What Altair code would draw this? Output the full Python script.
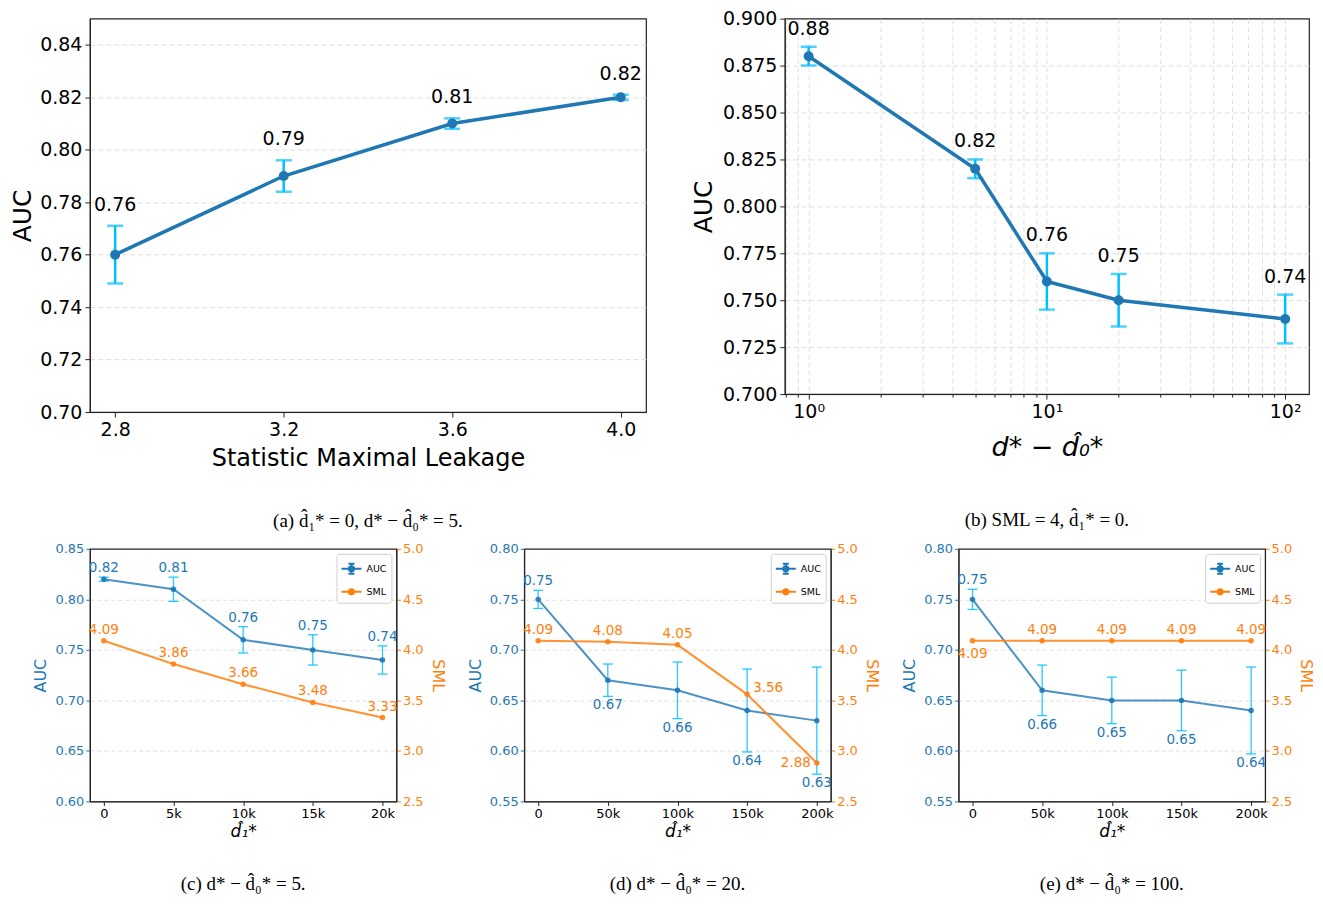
import altair as alt
import pandas as pd

BLUE = "#1f77b4"
CYAN = "#00bfff"
ORANGE = "#ff7f0e"
FONT = "DejaVu Sans"
SERIF = "Liberation Serif"
GRID = "#dedede"

# ---------------- panel (a) ----------------
A_SML = [2.8, 3.2, 3.6, 4.0]
A_AUC = [0.76, 0.79, 0.81, 0.82]
A_LO = [0.749, 0.784, 0.808, 0.819]
A_HI = [0.771, 0.796, 0.812, 0.821]
A_YTICKS = [0.70, 0.72, 0.74, 0.76, 0.78, 0.80, 0.82, 0.84]

# ---------------- panel (b) ----------------
B_GAP = [1, 5, 10, 20, 100]
B_AUC = [0.88, 0.82, 0.76, 0.75, 0.74]
B_LO = [0.875, 0.815, 0.745, 0.736, 0.727]
B_HI = [0.885, 0.825, 0.775, 0.764, 0.753]
B_YTICKS = [0.700, 0.725, 0.750, 0.775, 0.800, 0.825, 0.850, 0.875, 0.900]
B_XTICKS = [0.8, 0.9, 1, 2, 3, 4, 5, 6, 7, 8, 9, 10, 20, 30, 40, 50, 60, 70, 80, 90, 100]

# ---------------- panel (c) ----------------
C_D1 = [0, 5000, 10000, 15000, 20000]
C_AUC = [0.82, 0.81, 0.76, 0.75, 0.74]
C_LO = [0.818, 0.798, 0.747, 0.735, 0.726]
C_HI = [0.822, 0.822, 0.773, 0.765, 0.754]
C_SML = [4.09, 3.86, 3.66, 3.48, 3.33]
C_AUC_POS = ["above", "above", "above", "above", "above"]
C_SML_POS = ["above", "above", "above", "above", "above"]

# ---------------- panel (d) ----------------
D_D1 = [0, 50000, 100000, 150000, 200000]
D_AUC = [0.75, 0.67, 0.66, 0.64, 0.63]
D_LO = [0.741, 0.654, 0.632, 0.599, 0.577]
D_HI = [0.759, 0.686, 0.688, 0.681, 0.683]
D_SML = [4.09, 4.08, 4.05, 3.56, 2.88]
D_AUC_POS = ["above", "below", "below", "below", "below"]
D_SML_POS = ["above", "above", "above", "right", "left"]

# ---------------- panel (e) ----------------
E_D1 = [0, 50000, 100000, 150000, 200000]
E_AUC = [0.75, 0.66, 0.65, 0.65, 0.64]
E_LO = [0.740, 0.635, 0.627, 0.620, 0.597]
E_HI = [0.760, 0.685, 0.673, 0.680, 0.683]
E_SML = [4.09, 4.09, 4.09, 4.09, 4.09]
E_AUC_POS = ["above", "below", "below", "below", "below"]
E_SML_POS = ["below", "above", "above", "above", "above"]

SML_TICKS = [2.5, 3.0, 3.5, 4.0, 4.5, 5.0]
SERIES = ["AUC", "SML"]

CAPTIONS = [
    "(a) d\u0302\u2081* = 0, d* \u2212 d\u0302\u2080* = 5.",
    "(b) SML = 4, d\u0302\u2081* = 0.",
    "(c) d* \u2212 d\u0302\u2080* = 5.",
    "(d) d* \u2212 d\u0302\u2080* = 20.",
    "(e) d* \u2212 d\u0302\u2080* = 100.",
]


def caption(text, offset):
    return alt.TitleParams(text=text, orient="bottom", anchor="middle", offset=offset,
                           font=SERIF, fontSize=19, fontWeight="normal", color="black")


def edge_hidden(lo, hi):
    return {"condition": {"test": f"abs(datum.value - {lo}) < 1e-9 || abs(datum.value - {hi}) < 1e-9",
                          "value": 0}, "value": 1}


def big_panel(df, xenc, yscale, yaxis, dy, width, height, title):
    base = alt.Chart(df)
    y = lambda f: alt.Y(f"{f}:Q", scale=yscale, axis=yaxis)
    rule = base.mark_rule(color=CYAN, strokeWidth=2.5).encode(x=xenc, y=y("lo"), y2="hi:Q")
    cap_lo = base.mark_tick(color=CYAN, orient="horizontal", size=16, thickness=2.5).encode(x=xenc, y=y("lo"))
    cap_hi = base.mark_tick(color=CYAN, orient="horizontal", size=16, thickness=2.5).encode(x=xenc, y=y("hi"))
    line = base.mark_line(color=BLUE, strokeWidth=3.5).encode(x=xenc, y=y("auc"))
    pts = base.mark_circle(color=BLUE, size=100, opacity=1).encode(x=xenc, y=y("auc"))
    lbl = base.mark_text(baseline="bottom", dy=dy, fontSize=19, font=FONT, color="black").encode(
        x=xenc, y=y("hi"), text=alt.Text("auc:Q", format=".2f"))
    return alt.layer(rule, cap_lo, cap_hi, line, pts, lbl).properties(
        width=width, height=height, title=title)


# panel (a)
dfa = pd.DataFrame({"x": A_SML, "auc": A_AUC, "lo": A_LO, "hi": A_HI})
xa = alt.X("x:Q", scale=alt.Scale(domain=[2.74, 4.06], nice=False, zero=False),
           axis=alt.Axis(values=A_SML, format=".1f", title="Statistic Maximal Leakage", grid=False,
                         labelFontSize=19, titleFontSize=24, tickSize=5, labelPadding=3,
                         titlePadding=8, labelFlush=False, labelColor="black", titleColor="black"))
ya_scale = alt.Scale(domain=[0.70, 0.85], nice=False, zero=False)
ya_axis = alt.Axis(values=A_YTICKS, format=".2f", title="AUC", grid=True, gridDash=[5, 3],
                   gridColor=GRID, gridOpacity=edge_hidden(0.70, 0.85),
                   labelFontSize=19, titleFontSize=25, tickSize=5, labelPadding=3,
                   titlePadding=4, labelFlush=False, labelColor="black", titleColor="black")
panel_a = big_panel(dfa, xa, ya_scale, ya_axis, -11, 557, 394, caption(CAPTIONS[0], 41))

# panel (b)
dfb = pd.DataFrame({"x": B_GAP, "auc": B_AUC, "lo": B_LO, "hi": B_HI})
major = "datum.value == 1 || datum.value == 10 || datum.value == 100"
xb = alt.X("x:Q", scale=alt.Scale(type="log", domain=[0.7943, 125.9], nice=False),
           axis=alt.Axis(values=B_XTICKS, title="d* \u2212 d\u0302\u2080*",
                         labelExpr="datum.value == 1 ? '10\u2070' : datum.value == 10 ? '10\u00b9' : datum.value == 100 ? '10\u00b2' : ''",
                         labelOverlap=False, labelFlush=False, grid=True, gridDash=[5, 3], gridColor=GRID,
                         tickSize={"condition": {"test": major, "value": 5}, "value": 3},
                         labelFontSize=19, titleFontSize=27, titleFontStyle="italic", labelPadding=3,
                         titlePadding=14, labelColor="black", titleColor="black"))
yb_scale = alt.Scale(domain=[0.70, 0.90], nice=False, zero=False)
yb_axis = alt.Axis(values=B_YTICKS, format=".3f", title="AUC", grid=True, gridDash=[5, 3],
                   gridColor=GRID, gridOpacity=edge_hidden(0.70, 0.90),
                   labelFontSize=19, titleFontSize=25, tickSize=5, labelPadding=3,
                   titlePadding=6, labelFlush=False, labelColor="black", titleColor="black")
panel_b = big_panel(dfb, xb, yb_scale, yb_axis, -8, 525, 376, caption(CAPTIONS[1], 50))

PATH_SML = ("M-1,0L1,0M-0.26,0A0.26,0.26,0,1,0,0.26,0A0.26,0.26,0,1,0,-0.26,0"
            "M-0.12,0A0.12,0.12,0,1,0,0.12,0A0.12,0.12,0,1,0,-0.12,0")
PATH_AUC = ("M-1,0L1,0M0,-0.5L0,0.5M-0.3,-0.5L0.3,-0.5M-0.3,0.5L0.3,0.5"
            "M-0.26,0A0.26,0.26,0,1,0,0.26,0A0.26,0.26,0,1,0,-0.26,0"
            "M-0.12,0A0.12,0.12,0,1,0,0.12,0A0.12,0.12,0,1,0,-0.12,0")


def small_legend():
    return alt.Legend(title=None, orient="top-right", offset=5, padding=4,
                      fillColor="white", strokeColor="#d0d0d0", cornerRadius=3,
                      labelFontSize=9.5, labelFont=FONT, labelColor="black",
                      symbolSize=400, symbolStrokeWidth=2, rowPadding=3, symbolOpacity=1)


def small_panel(xs, auc, lo, hi, sml, auc_pos, sml_pos, xdomain, ydomain, yticks, title):
    df = pd.DataFrame({"x": xs, "auc": auc, "lo": lo, "hi": hi, "sml": sml,
                       "apos": auc_pos, "spos": sml_pos})
    xenc = alt.X("x:Q", scale=alt.Scale(domain=xdomain, nice=False, zero=False),
                 axis=alt.Axis(values=xs, title="d\u0302\u2081*", grid=False,
                               labelExpr="datum.value == 0 ? '0' : format(datum.value / 1000, 'd') + 'k'",
                               labelFontSize=13, titleFontSize=17, titleFontStyle="italic", tickSize=4,
                               labelPadding=2, titlePadding=3, labelFlush=False,
                               labelColor="black", titleColor="black"))
    ysc = alt.Scale(domain=ydomain, nice=False, zero=False)
    yax = alt.Axis(values=yticks, format=".2f", title="AUC", orient="left", grid=True,
                   gridDash=[4, 3], gridColor=GRID, gridOpacity=edge_hidden(ydomain[0], ydomain[1]),
                   labelFontSize=13, titleFontSize=16,
                   tickSize=4, labelPadding=2, titlePadding=6, labelFlush=False,
                   labelColor=BLUE, titleColor=BLUE, tickColor=BLUE)
    ssc = alt.Scale(domain=[2.5, 5.0], nice=False, zero=False)
    sax = alt.Axis(values=SML_TICKS, format=".1f", title="SML", orient="right", grid=False,
                   labelFontSize=13, titleFontSize=16, tickSize=4, labelPadding=2, titlePadding=6,
                   labelFlush=False, labelColor=ORANGE, titleColor=ORANGE, tickColor=ORANGE)
    ya = lambda f: alt.Y(f"{f}:Q", scale=ysc, axis=yax)
    ys = alt.Y("sml:Q", scale=ssc, axis=sax)
    base = alt.Chart(df)

    rule = base.mark_rule(color=CYAN, strokeWidth=1.3, opacity=0.85).encode(x=xenc, y=ya("lo"), y2="hi:Q")
    cap_lo = base.mark_tick(color=CYAN, orient="horizontal", size=10, thickness=1.3, opacity=0.85).encode(x=xenc, y=ya("lo"))
    cap_hi = base.mark_tick(color=CYAN, orient="horizontal", size=10, thickness=1.3, opacity=0.85).encode(x=xenc, y=ya("hi"))
    aline = base.mark_line(color=BLUE, strokeWidth=2, opacity=0.8).encode(x=xenc, y=ya("auc"))
    apts = base.mark_circle(color=BLUE, size=30, opacity=0.9).encode(x=xenc, y=ya("auc"))
    a_above = base.transform_filter("datum.apos == 'above'").mark_text(
        baseline="bottom", dy=-2, fontSize=13.5, font=FONT, color=BLUE).encode(
        x=xenc, y=ya("hi"), text=alt.Text("auc:Q", format=".2f"))
    a_below = base.transform_filter("datum.apos == 'below'").mark_text(
        baseline="top", dy=2, fontSize=13.5, font=FONT, color=BLUE).encode(
        x=xenc, y=ya("lo"), text=alt.Text("auc:Q", format=".2f"))
    auc_layer = alt.layer(rule, cap_lo, cap_hi, aline, apts, a_above, a_below)

    sline = base.mark_line(color=ORANGE, strokeWidth=2, opacity=0.85).encode(x=xenc, y=ys)
    spts = base.mark_circle(color=ORANGE, size=30, opacity=0.9).encode(x=xenc, y=ys)
    stext = lambda pos, **kw: base.transform_filter(f"datum.spos == '{pos}'").mark_text(
        fontSize=13.5, font=FONT, color=ORANGE, **kw).encode(
        x=xenc, y=ys, text=alt.Text("sml:Q", format=".2f"))
    s_above = stext("above", baseline="bottom", dy=-4)
    s_below = stext("below", baseline="top", dy=6)
    s_right = stext("right", align="left", baseline="middle", dx=6, dy=-6)
    s_left = stext("left", align="right", baseline="middle", dx=-6)
    sml_layer = alt.layer(sline, spts, s_above, s_below, s_right, s_left)

    leg = alt.Chart(pd.DataFrame({"series": SERIES})).mark_point(opacity=0, filled=False).encode(
        color=alt.Color("series:N", scale=alt.Scale(domain=SERIES, range=[BLUE, ORANGE]),
                        legend=small_legend()),
        shape=alt.Shape("series:N", scale=alt.Scale(domain=SERIES, range=[PATH_AUC, PATH_SML]),
                        legend=small_legend()),
    )
    return alt.layer(auc_layer, sml_layer, leg).resolve_scale(y="independent").properties(
        width=307, height=253, title=title)


panel_c = small_panel(C_D1, C_AUC, C_LO, C_HI, C_SML, C_AUC_POS, C_SML_POS,
                      [-1000, 21000], [0.60, 0.85], [0.60, 0.65, 0.70, 0.75, 0.80, 0.85],
                      caption(CAPTIONS[2], 36))
panel_d = small_panel(D_D1, D_AUC, D_LO, D_HI, D_SML, D_AUC_POS, D_SML_POS,
                      [-10000, 210000], [0.55, 0.80], [0.55, 0.60, 0.65, 0.70, 0.75, 0.80],
                      caption(CAPTIONS[3], 36))
panel_e = small_panel(E_D1, E_AUC, E_LO, E_HI, E_SML, E_AUC_POS, E_SML_POS,
                      [-10000, 210000], [0.55, 0.80], [0.55, 0.60, 0.65, 0.70, 0.75, 0.80],
                      caption(CAPTIONS[4], 36))

top = alt.hconcat(panel_a, panel_b, spacing=44)
bottom = alt.hconcat(panel_c, panel_d, panel_e, spacing=20).resolve_scale(
    color="independent", shape="independent").resolve_legend(color="independent", shape="independent")

chart = alt.vconcat(top, bottom, spacing=10).properties(
    padding={"left": 2, "top": 0, "right": 0, "bottom": 0}
).configure(font=FONT).configure_view(stroke="#222222", strokeWidth=1.2).configure_axis(
    domainColor="#222222", tickColor="#222222", titleFontWeight="normal", labelFont=FONT, titleFont=FONT
)

chart.save("out.html", embed_options={"renderer": "svg", "actions": False})
